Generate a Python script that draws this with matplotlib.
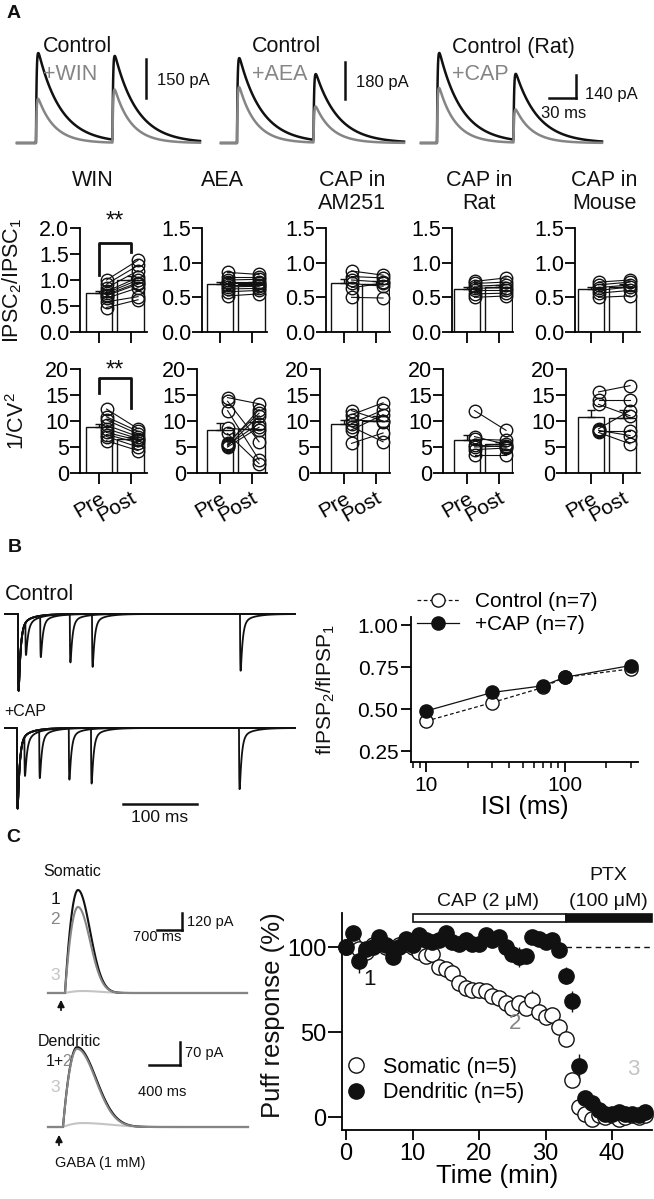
import numpy as np
import matplotlib.pyplot as plt
from matplotlib.patches import Rectangle
from matplotlib.ticker import NullFormatter

plt.rcParams['font.family'] = ['Liberation Sans', 'DejaVu Sans']
plt.rcParams['mathtext.fontset'] = 'custom'
plt.rcParams['mathtext.rm'] = 'Liberation Sans'
plt.rcParams['mathtext.it'] = 'Liberation Sans:italic'
plt.rcParams['mathtext.bf'] = 'Liberation Sans:bold'
plt.rcParams['axes.linewidth'] = 1.3
plt.rcParams['path.simplify'] = False

W, H = 654, 1199
BLACK = '#111111'
GREY = '#858585'
LIGHT = '#c4c4c4'

# ---------------- data ----------------
# A, example traces: peaks of 1st / 2nd IPSC (pA)
a_ctrl_names = ['Control', 'Control', 'Control (Rat)']
a_drug_names = ['+WIN', '+AEA', '+CAP']
a_ctrl_peaks = [[346, 323], [413, 321], [548, 402]]
a_drug_peaks = [[170, 204], [272, 175], [335, 201]]
a_bar_pa = [150, 180, 140]
a_isi_ms = 85
a_bar_ms = 30

# A, paired summary plots
groups = ['WIN', 'AEA', 'CAP in\nAM251', 'CAP in\nRat', 'CAP in\nMouse']
ppr_pre = [
    [0.47, 0.58, 0.65, 0.70, 0.72, 0.75, 0.78, 0.85, 0.92, 1.00],
    [0.52, 0.58, 0.62, 0.65, 0.68, 0.70, 0.72, 0.75, 0.80, 0.86],
    [0.88, 0.80, 0.75, 0.70, 0.64, 0.50],
    [0.50, 0.55, 0.60, 0.63, 0.66, 0.70, 0.73],
    [0.50, 0.56, 0.60, 0.64, 0.68, 0.72],
]
ppr_post = [
    [0.62, 0.68, 0.85, 0.92, 0.95, 1.00, 1.05, 1.18, 1.28, 1.38],
    [0.55, 0.60, 0.63, 0.66, 0.68, 0.70, 0.72, 0.76, 0.80, 0.83],
    [0.82, 0.78, 0.72, 0.66, 0.70, 0.49],
    [0.52, 0.56, 0.60, 0.64, 0.68, 0.72, 0.78],
    [0.52, 0.60, 0.65, 0.68, 0.72, 0.75],
]
cv_pre = [
    [12.3, 10.8, 10.2, 9.2, 8.5, 7.8, 7.4, 7.0, 6.2],
    [14.5, 13.8, 12.0, 8.6, 7.6, 5.8, 5.4, 5.2, 5.0, 5.5],
    [12.0, 11.2, 10.2, 9.5, 8.9, 8.3, 5.7],
    [12.0, 7.0, 6.5, 5.4, 5.0, 4.5, 3.5],
    [15.6, 14.0, 13.2, 8.5, 8.2, 7.8, 8.0],
]
cv_post = [
    [8.5, 8.0, 7.5, 7.0, 6.6, 6.3, 5.8, 5.0, 4.3],
    [13.3, 6.0, 2.5, 8.2, 1.8, 11.5, 9.5, 11.0, 8.8, 12.2],
    [10.0, 13.5, 9.9, 12.1, 6.0, 11.2, 7.7],
    [8.2, 5.5, 6.3, 5.0, 5.2, 4.8, 3.5],
    [16.8, 14.0, 11.0, 12.0, 7.2, 5.6, 8.0],
]

# B, paired-pulse ratio vs ISI
isi_ms = [10, 30, 70, 100, 300]
fipsp_ctrl = [0.43, 0.54, 0.63, 0.69, 0.74]
fipsp_cap = [0.49, 0.60, 0.64, 0.69, 0.76]
b_first_amp = [1.0, 1.05]

# C, puff responses over time
time_min = list(range(46))
somatic = [100, 102, 99, 97, 101, 102, 100, 99, 101, 102, 100, 97, 95, 96, 88, 87,
           85, 79, 76, 75, 75, 74, 71, 70, 67, 64, 67, 64, 69, 62, 59, 60, 53, 46,
           22, 6, 2, -1, 1, 0, 1, -1, 0, 1, 0, 1]
somatic_err = [2, 2, 3, 3, 2, 3, 2, 2, 2, 2, 2, 3, 3, 3, 3, 4, 3, 3, 3, 3, 3, 3, 3, 4,
               5, 4, 4, 4, 6, 4, 4, 4, 4, 4, 4, 2, 2, 1, 1, 1, 1, 1, 1, 1, 1, 1]
dendritic = [100, 108, 92, 99, 100, 106, 101, 94, 100, 105, 101, 107, 104, 103, 104,
             108, 103, 102, 104, 102, 102, 107, 104, 106, 100, 96, 94, 95, 106, 105,
             103, 104, 98, 83, 68, 30, 11, 8, 4, 2, 2, 3, 2, 2, 1, 3]
dendritic_err = [2, 3, 7, 3, 3, 3, 3, 4, 3, 3, 3, 3, 3, 3, 3, 3, 3, 3, 3, 3, 3, 3, 3, 3,
                 4, 4, 6, 4, 3, 3, 3, 3, 4, 5, 6, 7, 3, 2, 2, 1, 1, 1, 1, 1, 1, 1]
cap_window = (10, 33)
c_soma_amp = [727, 607, 14]
c_dend_amp = [243, 238, 12]

fig = plt.figure(figsize=(W / 100, H / 100), dpi=100)


def px_axes(x0, y0, x1, y1):
    return fig.add_axes([x0 / W, 1 - y1 / H, (x1 - x0) / W, (y1 - y0) / H])


def trace_axes(box, origin, xs, ys):
    # xs, ys = pixels per data unit
    x0, y0, x1, y1 = box
    ax = px_axes(x0, y0, x1, y1)
    ax.set_xlim((x0 - origin[0]) / xs, (x1 - origin[0]) / xs)
    ax.set_ylim((origin[1] - y1) / ys, (origin[1] - y0) / ys)
    ax.set_axis_off()
    return ax


def ftext(x, y, s, **kw):
    kw.setdefault('va', 'center')
    kw.setdefault('color', BLACK)
    fig.text(x / W, 1 - y / H, s, **kw)


def psc(t, onset, peak, tau_d, tau_r=0.7):
    s = np.clip(t - onset, 0, None)
    tp = tau_r * np.log((tau_d + tau_r) / tau_r)
    norm = (1 - np.exp(-tp / tau_r)) * np.exp(-tp / tau_d)
    return peak * (1 - np.exp(-s / tau_r)) * np.exp(-s / tau_d) / norm


def puff(t, amp, t_peak, width):
    u = np.clip(t / t_peak, 0, 1)
    rise = 1 - (1 - u) ** 2
    fall = np.exp(-(np.clip(t - t_peak, 0, None) / width) ** 2)
    return amp * np.where(t < 0, 0, rise * fall)


def scale_bar(ax, corner, dx, dy):
    cx, cy = corner
    if dy:
        ax.plot([cx, cx], [cy, cy + dy], color=BLACK, lw=1.8, clip_on=False)
    if dx:
        ax.plot([cx - dx, cx], [cy, cy], color=BLACK, lw=1.8, clip_on=False)


# ---------------- panel labels ----------------
ftext(14, 14, 'A', fontsize=14, fontweight='bold', ha='center')
ftext(15, 548, 'B', fontsize=14, fontweight='bold', ha='center')
ftext(13, 837, 'C', fontsize=14, fontweight='bold', ha='center')

# ---------------- A traces ----------------
a_onset_px = [36, 237, 437]
a_start_px = [17, 221, 421]
a_end_px = [200, 404, 602]
a_bar_len_px = [39, 37, 23]
a_bar_corner_px = [(146, 98), (345, 99), (576, 98)]
a_txt_px = [(43, 157), (252, 356), (452, 585)]
a_pxms = 0.9
for i in range(3):
    ys = a_bar_len_px[i] / a_bar_pa[i]
    ax = trace_axes((a_start_px[i] - 3, 35, a_start_px[i] + 200, 150),
                    (a_onset_px[i], 143), a_pxms, ys)
    t = np.linspace((a_start_px[i] - a_onset_px[i]) / a_pxms,
                    (a_end_px[i] - a_onset_px[i]) / a_pxms, 1500)
    ctrl = psc(t, 0, a_ctrl_peaks[i][0], 25) + psc(t, a_isi_ms, a_ctrl_peaks[i][1], 25)
    drug = psc(t, 0, a_drug_peaks[i][0], 18) + psc(t, a_isi_ms, a_drug_peaks[i][1], 18)
    ax.plot(t, ctrl, color=BLACK, lw=1.8)
    ax.plot(t, drug, color=GREY, lw=1.8)
    bx, by = a_bar_corner_px[i]
    corner = ((bx - a_onset_px[i]) / a_pxms, (143 - by) / ys)
    scale_bar(ax, corner, a_bar_ms if i == 2 else 0, a_bar_pa[i])
    ftext(a_txt_px[i][0], 47, a_ctrl_names[i], fontsize=15.5)
    ftext(a_txt_px[i][0], 74, a_drug_names[i], fontsize=15.5, color=GREY)
    ftext(a_txt_px[i][1], by - a_bar_len_px[i] / 2 + (8 if i == 2 else 2),
          '%d pA' % a_bar_pa[i], fontsize=12)
ftext(564, 113, '%d ms' % a_bar_ms, fontsize=12, ha='center')

# ---------------- A summary plots ----------------
row_spine = [[80, 202, 326, 452, 575], [80, 197, 320, 443, 566]]
row_tick0 = [99, 220, 344, 467, 591]
row_right = [147, 267, 390, 513, 640]
row_y = [(228, 332), (369, 473)]
sp = 31.5
title_x = [93, 222, 352, 479, 604]


def paired(ax, pre, post):
    pre = np.array(pre)
    post = np.array(post)
    means = [pre.mean(), post.mean()]
    sems = [pre.std(ddof=1) / np.sqrt(len(pre)), post.std(ddof=1) / np.sqrt(len(post))]
    ax.bar([0, 1], means, width=0.83, color='white', edgecolor=BLACK, linewidth=1.0, zorder=1)
    ax.errorbar([0, 1], means, yerr=[[0, 0], sems], fmt='none', ecolor=BLACK,
                elinewidth=1.0, capsize=3, capthick=1.0, zorder=2)
    for a, b in zip(pre, post):
        ax.plot([0.24, 1.24], [a, b], color=BLACK, lw=0.8, zorder=3)
    ax.plot(np.full(len(pre), 0.24), pre, 'o', mfc='none', mec=BLACK, ms=9, mew=1.0, zorder=4)
    ax.plot(np.full(len(post), 1.24), post, 'o', mfc='none', mec=BLACK, ms=9, mew=1.0, zorder=4)


for r in range(2):
    for i in range(5):
        y0, y1 = row_y[r]
        ax = px_axes(row_spine[r][i], y0, row_right[i], y1)
        ax.set_xlim((row_spine[r][i] - row_tick0[i]) / sp, (row_right[i] - row_tick0[i]) / sp)
        if r == 0:
            paired(ax, ppr_pre[i], ppr_post[i])
            ymax = 2.0 if i == 0 else 1.5
            ax.set_ylim(0, ymax)
            yt = np.arange(0, ymax + 0.01, 0.5)
            ax.set_yticks(yt)
            ax.set_yticklabels(['%.1f' % v for v in yt])
        else:
            paired(ax, cv_pre[i], cv_post[i])
            ax.set_ylim(0, 20)
            ax.set_yticks([0, 5, 10, 15, 20])
        ax.set_xticks([0, 1])
        if r == 1:
            ax.set_xticklabels(['Pre', 'Post'], rotation=30, ha='right', va='top',
                               rotation_mode='anchor', fontsize=15)
        else:
            ax.set_xticklabels([])
        for s in ['top', 'right']:
            ax.spines[s].set_visible(False)
        ax.tick_params(axis='y', length=7, width=1.3, labelsize=15.5, pad=1)
        ax.tick_params(axis='x', length=8, width=1.3, pad=3)
        if i == 0:
            if r == 0:
                yt_, yl_, yr_, star = 1.71, 1.10, 1.54, 2.12
            else:
                yt_, yl_, yr_, star = 18.3, 15.4, 12.5, 19.8
            ax.plot([0, 0, 1, 1], [yl_, yt_, yt_, yr_], color=BLACK, lw=2.0, clip_on=False)
            ax.text(0.5, star, '**', ha='center', va='center', fontsize=17, color=BLACK)

for i in range(5):
    if '\n' in groups[i]:
        ftext(title_x[i], 192, groups[i], fontsize=15.5, ha='center', linespacing=1.15)
    else:
        ftext(title_x[i], 181, groups[i], fontsize=15.5, ha='center')
ftext(12, 280, 'IPSC$_2$/IPSC$_1$', fontsize=15.5, ha='center', rotation=90)
ftext(18, 421, '1/CV$^2$', fontsize=15.5, ha='center', rotation=90)

# ---------------- B traces ----------------
b_pxms = 0.74
b_unit = 81
b_boxes = [(0, 585, 300, 705), (0, 700, 300, 825)]
b_origin = [(18, 614), (17, 728)]
b_ratios = [fipsp_ctrl, fipsp_cap]


def fipsp(t, onset, amp):
    return -(0.88 * psc(t, onset, amp, 2.5, 0.4) + 0.12 * psc(t, onset, amp, 15, 1.5))


for k in range(2):
    ax = trace_axes(b_boxes[k], b_origin[k], b_pxms, b_unit)
    t = np.linspace((5 - b_origin[k][0]) / b_pxms, (295 - b_origin[k][0]) / b_pxms, 4000)
    a1 = b_first_amp[k]
    for isi, ratio in zip(isi_ms, b_ratios[k]):
        sweep = fipsp(t, 0, a1) + fipsp(t, isi, a1 * ratio)
        ax.plot(t, sweep, color=BLACK, lw=1.3)
    if k == 1:
        x_bar = (123 - b_origin[k][0]) / b_pxms
        ax.plot([x_bar, x_bar + 100], [(728 - 804) / b_unit] * 2,
                color=BLACK, lw=1.8, clip_on=False)
ftext(5, 594, 'Control', fontsize=15.5)
ftext(4, 711, '+CAP', fontsize=11.5)
ftext(160, 818, '100 ms', fontsize=12.5, ha='center')

# ---------------- B ratio plot ----------------
axb = px_axes(411, 617, 638, 762)
axb.plot(isi_ms, fipsp_ctrl, 'o', ls=(0, (3, 2)), color=BLACK, lw=0.9, mfc='white',
         mec=BLACK, ms=9.5, mew=1.0, label='Control (n=7)', clip_on=False)
axb.plot(isi_ms, fipsp_cap, 'o-', color=BLACK, lw=0.9, mfc=BLACK, mec=BLACK, ms=9.5,
         label='+CAP (n=7)', clip_on=False)
axb.set_xscale('log')
axb.set_xlim(7.8, 339)
axb.set_ylim(0.1875, 1.048)
axb.set_yticks([0.25, 0.5, 0.75, 1.0])
axb.set_yticklabels(['0.25', '0.50', '0.75', '1.00'])
axb.set_xticks([10, 100])
axb.set_xticklabels(['10', '100'])
axb.xaxis.set_minor_formatter(NullFormatter())
for s in ['top', 'right']:
    axb.spines[s].set_visible(False)
axb.tick_params(axis='y', length=7, width=1.3, labelsize=15, pad=2)
axb.tick_params(axis='x', which='major', length=7, width=1.3, labelsize=15, pad=3)
axb.tick_params(axis='x', which='minor', length=4, width=1.1)
axb.set_xlabel('ISI (ms)', fontsize=18, labelpad=0)
axb.legend(loc='upper left', bbox_to_anchor=(417 / W, 1 - 592 / H),
           bbox_transform=fig.transFigure, frameon=False, fontsize=15, borderpad=0,
           borderaxespad=0, handlelength=2.0, handletextpad=0.8, labelspacing=0.2)
ftext(326, 690, 'fIPSP$_2$/fIPSP$_1$', fontsize=15, ha='center', rotation=90)

# ---------------- C traces ----------------
# somatic
sxs, sys_ = 25 / 700, 17 / 120
axs = trace_axes((45, 880, 250, 1000), (65, 993), sxs, sys_)
t = np.linspace((48 - 65) / sxs, (247 - 65) / sxs, 1500)
axs.plot(t, puff(t, c_soma_amp[2], 500, 700), color=LIGHT, lw=1.5)
axs.plot(t, puff(t, c_soma_amp[0], 364, 476), color=BLACK, lw=1.5)
axs.plot(t, puff(t, c_soma_amp[1], 364, 476), color=GREY, lw=1.5)
scale_bar(axs, ((182 - 65) / sxs, (993 - 930) / sys_), 700, 120)
# dendritic
dxs, dys = 31 / 400, 23 / 70
axd = trace_axes((45, 1035, 250, 1135), (63, 1127), dxs, dys)
t = np.linspace((48 - 63) / dxs, (248 - 63) / dxs, 1500)
axd.plot(t, puff(t, c_dend_amp[2], 250, 500), color=LIGHT, lw=1.5)
axd.plot(t, puff(t, c_dend_amp[0], 181, 348), color=BLACK, lw=1.5)
axd.plot(t, puff(t, c_dend_amp[1], 181, 340), color=GREY, lw=1.5)
scale_bar(axd, ((180 - 63) / dxs, (1127 - 1065) / dys), 400, 70)

ftext(72, 872, 'Somatic', fontsize=11.5, ha='center')
ftext(55, 899, '1', fontsize=12.5, ha='center')
ftext(55, 920, '2', fontsize=12.5, ha='center', color=GREY)
ftext(55, 976, '3', fontsize=12.5, ha='center', color=LIGHT)
ftext(187, 922, '120 pA', fontsize=10.5)
ftext(157, 937, '700 ms', fontsize=10.5, ha='center')
ftext(69, 1042, 'Dendritic', fontsize=11.5, ha='center')
ftext(46, 1062, '1+', fontsize=11.5)
ftext(62.5, 1062, '2', fontsize=11.5, color=GREY)
ftext(55, 1088, '3', fontsize=12.5, ha='center', color=LIGHT)
ftext(185, 1053, '70 pA', fontsize=10.5)
ftext(162, 1092, '400 ms', fontsize=10.5, ha='center')
ftext(55, 1163, 'GABA (1 mM)', fontsize=10.5)
for x, yt, yh in [(61, 1013, 997), (59, 1148, 1132)]:
    axd.annotate('', xy=(x / W, 1 - yh / H), xytext=(x / W, 1 - yt / H),
                 xycoords='figure fraction', textcoords='figure fraction',
                 arrowprops=dict(arrowstyle='-|>', color=BLACK, lw=1.3, mutation_scale=10),
                 annotation_clip=False)

# ---------------- C time course ----------------
axc = px_axes(342, 913, 652, 1130)
axc.set_xlim(-0.6, 46.0)
axc.set_ylim(-7.6, 120)
axc.hlines(100, cap_window[1], 46.0, colors=BLACK, linestyles=(0, (4, 3)), lw=1.0)
axc.errorbar(time_min, somatic, yerr=somatic_err, fmt='none', ecolor=BLACK,
             elinewidth=1.0, capsize=0, clip_on=False, zorder=2)
axc.plot(time_min, somatic, 'o', ls='none', mfc='white', mec=BLACK, ms=11, mew=1.0,
         label='Somatic (n=5)', clip_on=False, zorder=3)
axc.errorbar(time_min, dendritic, yerr=dendritic_err, fmt='none', ecolor=BLACK,
             elinewidth=1.0, capsize=0, clip_on=False, zorder=4)
axc.plot(time_min, dendritic, 'o', ls='none', mfc=BLACK, mec=BLACK, ms=11,
         label='Dendritic (n=5)', clip_on=False, zorder=5)
axc.add_patch(Rectangle((cap_window[0], 115), cap_window[1] - cap_window[0], 4.5,
                        facecolor='white', edgecolor=BLACK, lw=1.2, clip_on=False))
axc.add_patch(Rectangle((cap_window[1], 115), 46.0 - cap_window[1], 4.5,
                        facecolor=BLACK, edgecolor=BLACK, lw=1.2, clip_on=False))
axc.set_xticks([0, 10, 20, 30, 40])
axc.set_yticks([0, 50, 100])
for s in ['top', 'right']:
    axc.spines[s].set_visible(False)
axc.tick_params(axis='y', length=10, width=1.3, labelsize=17, pad=1)
axc.tick_params(axis='x', length=7, width=1.3, labelsize=17, pad=2)
axc.set_xlabel('Time (min)', fontsize=18.5, labelpad=0)
axc.legend(loc='upper left', bbox_to_anchor=(345 / W, 1 - 1057 / H),
           bbox_transform=fig.transFigure, frameon=False, fontsize=15.5, borderpad=0,
           borderaxespad=0, handlelength=1.0, handletextpad=0.75, labelspacing=0.2)
ftext(273, 1015, 'Puff response (%)', fontsize=18.5, ha='center', rotation=90)
ftext(488, 902, 'CAP (2 μM)', fontsize=14, ha='center')
ftext(608, 875, 'PTX', fontsize=14, ha='center')
ftext(608, 902, '(100 μM)', fontsize=14, ha='center')
axc.text(3.6, 81, '1', fontsize=16, ha='center', va='center', color=BLACK)
axc.text(25.4, 55, '2', fontsize=16, ha='center', va='center', color=GREY)
axc.text(43.2, 28, '3', fontsize=16, ha='center', va='center', color=LIGHT)

fig.savefig('out.png', dpi=100)
